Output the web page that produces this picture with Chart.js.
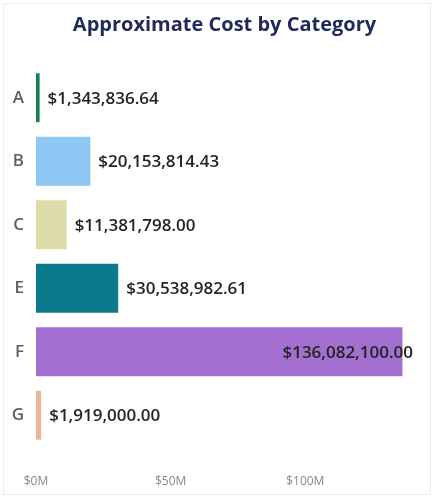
<!DOCTYPE html>
<html>
<head>
<meta charset="utf-8">
<script src="https://cdn.jsdelivr.net/npm/chart.js@4"></script>
<style>
  html, body { margin: 0; padding: 0; background: #fff; }
  #wrap { position: relative; width: 432px; height: 497px; }
  #frame { position: absolute; left: 3px; top: 3px; right: 1px; bottom: 2px; border: 1px solid #ececec; }
  #chart { position: absolute; left: 0; top: 0; }
</style>
</head>
<body>
<div id="wrap">
  <div id="frame"></div>
  <canvas id="chart" width="432" height="497"></canvas>
</div>
<script>
const categories = ['A', 'B', 'C', 'E', 'F', 'G'];
const costs = [1343836.64, 20153814.43, 11381798.00, 30538982.61, 136082100.00, 1919000.00];
const barColors = ['#1a7f4b', '#8dc8f4', '#dcdca8', '#0b7a8c', '#a36fd0', '#e9b796'];
const tickValues = [0, 50000000, 100000000];
const tickLabels = ['$0M', '$50M', '$100M'];

const fontFamily = '"Open Sans", "Noto Sans", sans-serif';

function money(v) {
  return '$' + v.toLocaleString('en-US', { minimumFractionDigits: 2, maximumFractionDigits: 2 });
}

const valueLabels = {
  id: 'valueLabels',
  afterDatasetsDraw(chart) {
    const ctx = chart.ctx;
    const area = chart.chartArea;
    const meta = chart.getDatasetMeta(0);
    ctx.save();
    ctx.font = '600 17px ' + fontFamily;
    ctx.fillStyle = '#252423';
    ctx.textBaseline = 'middle';
    ctx.textAlign = 'left';
    meta.data.forEach((bar, i) => {
      const text = money(costs[i]);
      const w = ctx.measureText(text).width;
      let x = bar.x + 8;
      if (x + w > area.right) x = area.right - w;
      ctx.fillText(text, x, bar.y + 1);
    });
    ctx.restore();
  }
};

new Chart(document.getElementById('chart').getContext('2d'), {
  type: 'bar',
  data: {
    labels: categories,
    datasets: [{
      data: costs,
      backgroundColor: barColors,
      borderWidth: 0,
      categoryPercentage: 0.77,
      barPercentage: 1
    }]
  },
  options: {
    indexAxis: 'y',
    responsive: false,
    animation: false,
    layout: { padding: { left: 0, right: 19, top: 0, bottom: 0 } },
    scales: {
      x: {
        min: 0,
        max: 140000000,
        grid: { display: false, drawTicks: false },
        border: { display: false },
        afterBuildTicks(axis) {
          axis.ticks = tickValues.map(v => ({ value: v }));
        },
        afterFit(axis) {
          axis.height = 50;
          axis.paddingLeft = 0;
          axis.paddingRight = 0;
        },
        ticks: {
          padding: 27,
          maxRotation: 0,
          minRotation: 0,
          autoSkip: false,
          color: '#8a8886',
          font: { family: fontFamily, size: 12 },
          callback: (v) => tickLabels[tickValues.indexOf(v)]
        }
      },
      y: {
        grid: { display: false, drawTicks: false },
        border: { display: false },
        afterFit(axis) {
          axis.width = 36;
        },
        ticks: {
          padding: 12,
          color: '#605e5c',
          font: { family: fontFamily, size: 17, weight: '600' }
        }
      }
    },
    plugins: {
      legend: { display: false },
      tooltip: { enabled: false },
      title: {
        display: true,
        fullSize: false,
        text: 'Approximate Cost by Category',
        color: '#1f2a5c',
        font: { family: fontFamily, size: 20, weight: 'bold' },
        padding: { top: 13, bottom: 29 }
      }
    }
  },
  plugins: [valueLabels]
});
</script>
</body>
</html>
